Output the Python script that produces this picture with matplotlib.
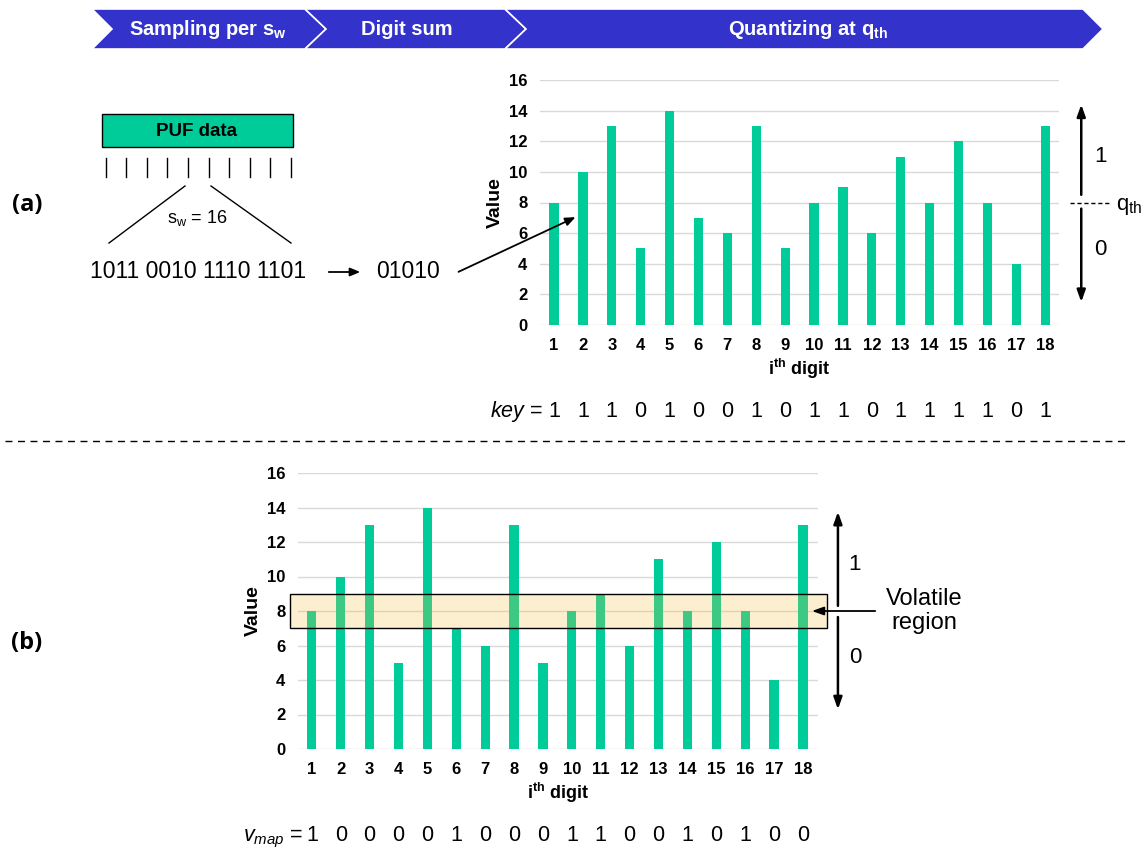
import numpy as np
import matplotlib
matplotlib.use("Agg")
import matplotlib.pyplot as plt
from matplotlib.patches import Polygon, Rectangle
from matplotlib.transforms import blended_transform_factory

plt.rcParams['font.family'] = ['Liberation Sans', 'DejaVu Sans']
plt.rcParams['mathtext.fontset'] = 'custom'
plt.rcParams['mathtext.rm'] = 'Liberation Sans'
plt.rcParams['mathtext.it'] = 'Liberation Sans:italic'
plt.rcParams['mathtext.bf'] = 'Liberation Sans:bold'

# data
digits = np.arange(1, 19)
values = [8, 10, 13, 5, 14, 7, 6, 13, 5, 8, 9, 6, 11, 8, 12, 8, 4, 13]
key_bits = [1, 1, 1, 0, 1, 0, 0, 1, 0, 1, 1, 0, 1, 1, 1, 1, 0, 1]
vmap_bits = [1, 0, 0, 0, 0, 1, 0, 0, 0, 1, 1, 0, 0, 1, 0, 1, 0, 0]
q_th = 8
vol_lo, vol_hi = 7, 9
stages = [r"Sampling per $\mathbf{s_w}$", "Digit sum", r"Quantizing at $\mathbf{q_{th}}$"]

GREEN = '#00CC99'
BLUE = '#3333CC'
W, H = 1145, 849

fig = plt.figure(figsize=(W / 100, H / 100), dpi=100)

# overlay in pixel coords for the diagram parts
ov = fig.add_axes([0, 0, 1, 1])
ov.set_xlim(0, W)
ov.set_ylim(H, 0)
ov.axis('off')
ov.set_zorder(10)
ov.patch.set_alpha(0)


def bar_chart(rect, xlim):
    ax = fig.add_axes(rect)
    ax.patch.set_alpha(0)
    ax.bar(digits, values, width=0.32, color=GREEN, zorder=2)
    ax.set_xlim(*xlim)
    ax.set_ylim(0, 16)
    ax.set_yticks(range(0, 17, 2))
    ax.set_xticks(digits)
    ax.grid(axis='y', color='#D9D9D9', lw=1, zorder=0)
    for s in ax.spines.values():
        s.set_visible(False)
    ax.tick_params(length=0, labelsize=12, pad=9)
    for lab in ax.get_xticklabels() + ax.get_yticklabels():
        lab.set_fontweight('bold')
    ax.set_ylabel('Value', fontsize=14, fontweight='bold', labelpad=4)
    ax.set_xlabel(r"$\mathbf{i^{th}}$ digit", fontsize=13, fontweight='bold', labelpad=3)
    return ax


ax_a = bar_chart([540 / W, 1 - 325 / H, 519 / W, 245 / H], (0.515, 18.48))
ax_b = bar_chart([298 / W, 1 - 749 / H, 520 / W, 276 / H], (0.52, 18.52))

# banner chevrons
segs = [(92, 112, 305, 326), (305, 326, 505, 526), (505, 526, 1083, 1103)]
yt, ym, yb = 9, 29, 49
for (l, ln, r, rp), txt in zip(segs, stages):
    ov.add_patch(Polygon([(l, yt), (r, yt), (rp, ym), (r, yb), (l, yb), (ln, ym)],
                         closed=True, fc=BLUE, ec='white', lw=1.2))
cx = [208, 407, 808]
for x, txt in zip(cx, stages):
    ov.text(x, ym, txt, color='white', fontsize=14.5, fontweight='bold', ha='center', va='center')

# panel labels
ov.text(27, 205, '(a)', fontsize=17, fontweight='bold', family=['Open Sans', 'DejaVu Sans'],
        ha='center', va='center')
ov.text(27, 643, '(b)', fontsize=17, fontweight='bold', family=['Open Sans', 'DejaVu Sans'],
        ha='center', va='center')

# PUF data diagram
ov.add_patch(Rectangle((102, 114), 191, 33, fc=GREEN, ec='black', lw=1))
ov.text(197, 131, 'PUF data', fontsize=13.5, fontweight='bold', ha='center', va='center')
for x in np.linspace(105.7, 291, 10):
    ov.plot([x, x], [158, 177], color='black', lw=1)
ov.plot([185, 109], [186, 243], color='black', lw=1)
ov.plot([211, 291], [186, 243], color='black', lw=1)
ov.text(197, 218, r"$\mathrm{s_w}$ = 16", fontsize=13, ha='center', va='center')
ov.text(198, 272, '1011 0010 1110 1101', fontsize=16.5, ha='center', va='center')
ov.annotate('', xy=(363, 272), xytext=(326, 272),
            arrowprops=dict(arrowstyle='-|>,head_length=0.6,head_width=0.25', color='black', lw=1.3))
ov.text(408, 272, '01010', fontsize=16.5, ha='center', va='center')
ov.annotate('', xy=(578, 216), xytext=(456, 273),
            arrowprops=dict(arrowstyle='-|>,head_length=0.6,head_width=0.25', color='black', lw=1.3))

# separator
ov.plot([5, 1130], [441, 441], color='black', lw=1, ls=(0, (5, 4)))

arrow_kw = dict(arrowstyle='-|>,head_length=0.7,head_width=0.25', color='black', lw=1.8,
                shrinkA=0, shrinkB=0)

# (a) threshold annotation
ax_a.annotate('', xy=(19.25, 14.4), xytext=(19.25, 8.5), arrowprops=arrow_kw, annotation_clip=False)
ax_a.annotate('', xy=(19.25, 1.5), xytext=(19.25, 7.6), arrowprops=arrow_kw, annotation_clip=False)
ax_a.plot([18.87, 20.25], [q_th, q_th], color='black', lw=1, ls=(0, (3, 2)), clip_on=False)
ax_a.text(20.45, q_th - 0.25, r"$\mathrm{q_{th}}$", fontsize=16, ha='left', va='center')
ax_a.text(19.9, 11.0, '1', fontsize=16, ha='center', va='center')
ax_a.text(19.9, 4.9, '0', fontsize=16, ha='center', va='center')

# key line
ky = 1 - 417 / H
tr_a = blended_transform_factory(ax_a.transData, fig.transFigure)
ax_a.text(0.62, ky, r"$key$ =", fontsize=15.5, ha='right', va='baseline', transform=tr_a)
for d, b in zip(digits, key_bits):
    ax_a.text(d, ky, str(b), fontsize=15.5, ha='center', va='baseline', transform=tr_a)

# (b) volatile region
ax_b.add_patch(Rectangle((0.24, vol_lo), 18.83 - 0.24, vol_hi - vol_lo, fc='#F5C242', alpha=0.25,
                         ec='none', zorder=3, clip_on=False))
ax_b.add_patch(Rectangle((0.24, vol_lo), 18.83 - 0.24, vol_hi - vol_lo, fc='none',
                         ec='black', lw=1, zorder=4, clip_on=False))
ax_b.annotate('', xy=(19.21, 13.75), xytext=(19.21, 8.3), arrowprops=arrow_kw, annotation_clip=False)
ax_b.annotate('', xy=(19.21, 2.3), xytext=(19.21, 7.65), arrowprops=arrow_kw, annotation_clip=False)
ax_b.text(19.8, 10.7, '1', fontsize=16, ha='center', va='center')
ax_b.text(19.8, 5.3, '0', fontsize=16, ha='center', va='center')
ax_b.annotate('', xy=(18.31, 8), xytext=(20.5, 8),
              arrowprops=dict(arrowstyle='-|>,head_length=0.7,head_width=0.25', color='black', lw=1.3,
                              shrinkA=0, shrinkB=0), annotation_clip=False)
ax_b.text(22.2, 8, 'Volatile\nregion', fontsize=17, ha='center', va='center', linespacing=1.15)

# v_map line
vy = 1 - 841 / H
tr_b = blended_transform_factory(ax_b.transData, fig.transFigure)
ax_b.text(0.7, vy, r"$v_{map}$ =", fontsize=15.5, ha='right', va='baseline', transform=tr_b)
for d, b in zip(digits, vmap_bits):
    ax_b.text(d, vy, str(b), fontsize=15.5, ha='center', va='baseline', transform=tr_b)

fig.savefig('out.png', dpi=100)
